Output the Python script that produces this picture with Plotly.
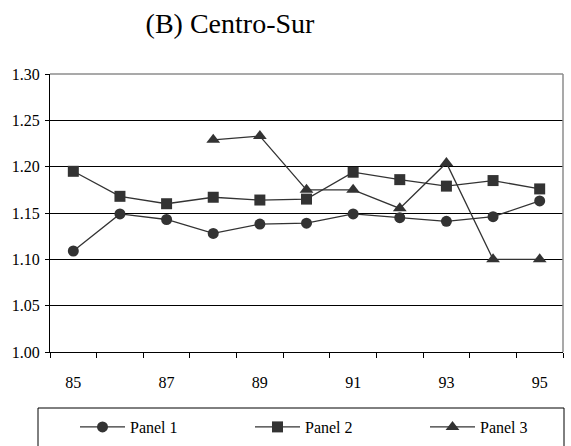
import plotly.graph_objects as go

# Years (two-digit) on the category axis
years = ["85", "86", "87", "88", "89", "90", "91", "92", "93", "94", "95"]
year_labels = ["85", "", "87", "", "89", "", "91", "", "93", "", "95"]

panel1 = [1.109, 1.149, 1.143, 1.128, 1.138, 1.139, 1.149, 1.145, 1.141, 1.146, 1.163]
panel2 = [1.195, 1.168, 1.160, 1.167, 1.164, 1.165, 1.194, 1.186, 1.179, 1.185, 1.176]
panel3 = [None, None, None, 1.229, 1.233, 1.175, 1.175, 1.155, 1.204, 1.100, 1.100]

y_ticks = [1.00, 1.05, 1.10, 1.15, 1.20, 1.25, 1.30]

FONT = "Liberation Serif"
INK = "#333333"

W, H = 571, 446
L, R, T, B = 50, 8, 74, 94
pw, ph = W - L - R, H - T - B

def px_x(p):
    return (p - L) / pw

def px_y(p):
    return (H - B - p) / ph

fig = go.Figure()
series = [
    ("Panel 1", panel1, "circle", 11, "legend", 75),
    ("Panel 2", panel2, "square", 11, "legend2", 250),
    ("Panel 3", panel3, "triangle-up", 12, "legend3", 425),
]
legend_style = dict(
    orientation="h", xanchor="left", yanchor="top", y=px_y(410),
    itemwidth=45, bgcolor="rgba(0,0,0,0)", borderwidth=0,
    font=dict(family=FONT, size=16, color="black"),
)
legends = {}
for name, vals, sym, size, leg, lx in series:
    fig.add_trace(go.Scatter(
        x=years, y=vals, name=name, mode="lines+markers",
        line=dict(color=INK, width=1.3),
        marker=dict(symbol=sym, size=size, color=INK, line=dict(width=0)),
        connectgaps=False, legend=leg,
    ))
    legends[leg] = dict(legend_style, x=px_x(lx))

# Legend frame, running past the bottom edge
fig.add_shape(type="rect", xref="paper", yref="paper",
              x0=px_x(38), x1=px_x(564), y0=px_y(470), y1=px_y(408),
              line=dict(color="black", width=1), fillcolor="rgba(0,0,0,0)")

# Plot frame: light grey top and right edges
fig.add_shape(type="line", xref="paper", yref="paper", x0=0, x1=1, y0=1, y1=1,
              line=dict(color="#8c8c8c", width=1.5))
fig.add_shape(type="line", xref="paper", yref="paper", x0=1, x1=1, y0=0, y1=1,
              line=dict(color="#8c8c8c", width=1.5))

fig.update_layout(
    width=W, height=H,
    margin=dict(l=L, r=R, t=T, b=B, autoexpand=False),
    paper_bgcolor="white", plot_bgcolor="white",
    font=dict(family=FONT, size=16, color="black"),
    title=dict(text="(B) Centro-Sur", x=230 / W, xanchor="center",
               xref="container", y=1 - 23 / H, yanchor="middle", yref="container",
               font=dict(family=FONT, size=28, color="black")),
    showlegend=True,
    **legends,
)

fig.update_xaxes(
    type="category", categoryorder="array", categoryarray=years,
    tickmode="array", tickvals=years, ticktext=year_labels,
    tickson="boundaries", ticks="outside", ticklen=5, tickcolor="black", tickwidth=1,
    ticklabelstandoff=16,
    showgrid=False, showline=True, linecolor="black", linewidth=1,
    zeroline=False, range=[-0.5, 10.5],
    tickfont=dict(family=FONT, size=16, color="black"),
)
fig.update_yaxes(
    range=[1.0, 1.30], tickmode="array", tickvals=y_ticks,
    ticktext=[f"{v:.2f}" for v in y_ticks],
    ticks="outside", ticklen=4, tickcolor="black", tickwidth=1,
    ticklabelstandoff=2,
    showgrid=True, gridcolor="black", gridwidth=1,
    showline=True, linecolor="black", linewidth=1.2,
    zeroline=False,
    tickfont=dict(family=FONT, size=16, color="black"),
)

fig.write_html("out.html")
